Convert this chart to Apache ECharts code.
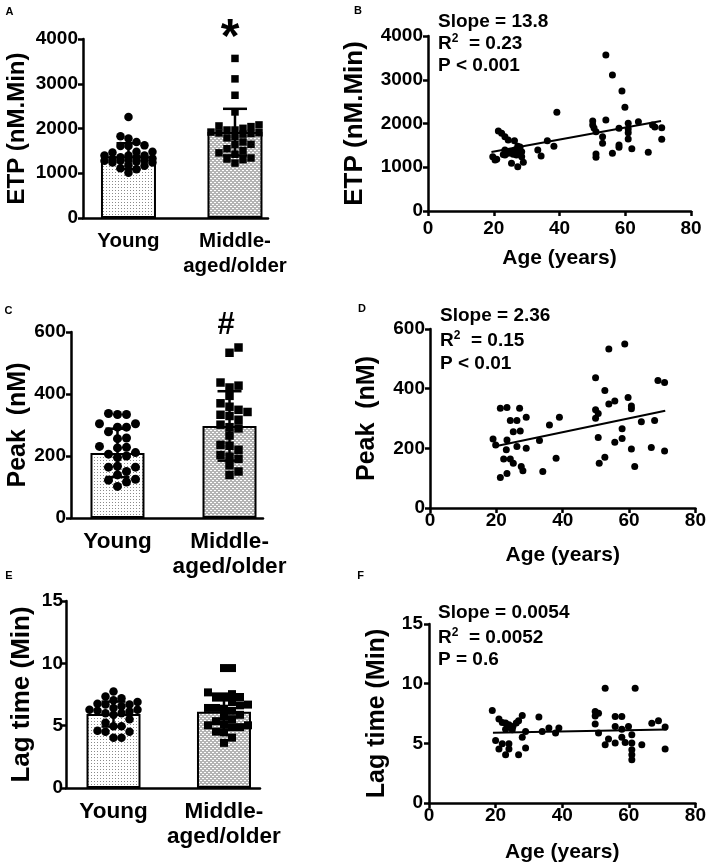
<!DOCTYPE html>
<html><head><meta charset="utf-8">
<script src="https://cdn.jsdelivr.net/npm/echarts@6/dist/echarts.min.js"></script>
<style>html,body{margin:0;padding:0;background:#fff}#c{width:709px;height:864px}</style>
</head><body><div id="c"></div>
<script>
// ---------------- DATA ----------------
const groupCats = ['Young', 'Middle-\naged/older'];
const ageTicks = [0, 20, 40, 60, 80];

// ETP (nM.Min) vs age
const etpAge = [19.7,20.4,20.9,21.4,22.4,23.4,24.4,26.3,27.3,23.4,23.4,24.4,25.4,27.3,28.5,28.5,29.0,26.4,26.9,28.0,33.4,34.4,36.3,38.3,39.2,24.9,25.9,22.9,27.8,
  54.1,56.1,59.0,59.9,50.1,50.1,54.1,51.1,53.1,53.1,51.1,51.1,56.1,58.1,58.1,58.1,60.9,60.9,60.9,62.0,64.0,67.0,68.3,69.0,71.1,71.1,60.9,50.5];
const etpVal = [1242,1166,1181,1829,1775,1699,1623,1608,1478,1394,1280,1318,1090,1013,1356,1242,1112,1394,1280,1463,1394,1257,1608,1478,2255,1350,1300,1290,1330,
  3566,3109,2743,2370,2057,1966,2080,1813,1699,1547,1303,1227,1318,1890,1509,1455,2004,1875,1646,1425,2042,1341,1966,1920,1905,1638,1790,1900];
const etpFit = [[19.3, 1349], [70.9, 2057]];
const etpMean = [1380, 1920];
const etpSD = [290, 520];
const etpStats = ['Slope = 13.8', '0.23', 'P < 0.001'];

// Peak (nM) vs age
const peakAge = [21.2,23.2,27.0,24.2,26.2,29.0,25.1,27.2,19.0,19.8,23.2,26.2,29.0,33.0,36.0,39.0,22.2,24.2,25.1,27.5,28.0,23.2,21.2,34.0,38.0,23.0,
  53.9,58.7,49.9,68.7,70.7,52.7,55.7,53.9,59.7,60.7,60.7,49.9,50.7,49.9,57.9,63.7,67.7,50.7,57.9,55.7,60.7,66.7,70.7,52.7,51.0,61.7];
const peakVal = [334,337,334,293,293,304,256,258,231,211,228,206,200,226,278,304,164,164,150,139,125,116,102,122,167,195,
  533,550,437,427,421,394,359,349,370,342,333,329,317,301,266,289,293,236,233,220,198,203,191,170,150,139];
const peakFit = [[19.0, 205], [70.9, 326]];
const peakMean = [210, 297];
const peakSD = [78, 112];
const peakStats = ['Slope = 2.36', '0.15', 'P < 0.01'];

// Lag time (Min) vs age
const lagAge = [19.0,33.0,28.0,21.0,26.9,22.0,24.0,25.2,26.2,23.0,25.0,29.0,34.0,36.0,38.0,39.0,28.0,20.0,22.0,24.0,29.0,21.0,24.0,23.0,26.9,23.0,
  52.9,61.9,49.9,50.9,49.9,55.9,57.9,66.9,68.9,49.9,50.9,55.9,57.9,59.9,60.9,70.9,53.9,52.9,55.9,58.9,57.9,60.9,63.9,60.9,60.9,60.9,70.9];
const lagVal = [7.75,7.2,7.33,7.03,6.9,6.75,6.56,6.42,6.7,6.19,6.14,6.0,6.0,6.28,5.87,6.28,5.52,5.24,4.96,4.96,4.6,4.52,4.52,4.04,4.04,6.7,
  9.62,9.62,7.67,7.53,7.3,7.25,7.25,6.69,6.9,6.63,5.87,6.42,6.19,6.42,5.71,6.36,5.36,4.88,5.03,5.08,5.52,5.03,4.88,4.46,4.04,3.62,4.52];
const lagFit = [[19.2, 5.88], [71.4, 6.16]];
const lagMean = [5.93, 6.12];
const lagSD = [1.0, 1.45];
const lagStats = ['Slope = 0.0054', '0.0052', 'P = 0.6'];

// ---------------- HELPERS ----------------
const FF = '"Liberation Sans", Arial, sans-serif';
function makePattern(w, h, bg, fg, pts) {
  const c = document.createElement('canvas'); c.width = w; c.height = h;
  const x = c.getContext('2d'); x.fillStyle = bg; x.fillRect(0, 0, w, h);
  x.fillStyle = fg; pts.forEach(p => x.fillRect(p[0], p[1], 1, 1));
  return c;
}
const youngPat = { image: makePattern(3, 3, '#ffffff', '#8a8a8a', [[1, 1]]), repeat: 'repeat' };
const oldPat = { image: makePattern(4, 4, '#b4b4b4', '#ffffff', [[0, 0], [1, 0], [2, 2], [3, 2]]), repeat: 'repeat' };

function split(ages, vals) {
  const y = [], o = [];
  ages.forEach((a, i) => (a < 45 ? y : o).push(vals[i]));
  return [y, o];
}
// simple beeswarm layout (pixel space), returns [x, value] pairs
function swarm(vals, center, pxX, pxY, size, halfW) {
  const placed = [], out = [];
  const order = vals.map((v, i) => i).sort((a, b) => vals[a] - vals[b]);
  const maxK = Math.floor(halfW / size);
  const cands = [0];
  for (let k = 1; k <= maxK; k++) cands.push(k * size, -k * size);
  order.forEach(i => {
    const py = vals[i] * pxY;
    let best = 0, bestD = -1;
    for (const off of cands) {
      let md = Infinity;
      for (const p of placed) { const d = Math.hypot(p[0] - off, p[1] - py); if (d < md) md = d; }
      if (md >= size * 0.92) { best = off; bestD = md; break; }
      if (md > bestD) { bestD = md; best = off; }
    }
    placed.push([best, py]);
    out.push([center + best / pxX, vals[i]]);
  });
  return out;
}

const axLine = { show: true, onZero: false, lineStyle: { color: '#000', width: 2.5 } };
const axTick = { show: true, inside: false, length: 5, lineStyle: { color: '#000', width: 2.5 } };
const plain = v => String(v);
function yAx(grid, max, interval, name, nameSize, nameGap, margin) {
  return {
    type: 'value', gridIndex: grid, min: 0, max: max, interval: interval,
    axisLine: axLine, axisTick: axTick, splitLine: { show: false },
    axisLabel: { formatter: plain, color: '#000', fontSize: 19, fontWeight: 'bold', fontFamily: FF, margin: margin },
    name: name, nameLocation: 'middle', nameGap: nameGap,
    nameTextStyle: { color: '#000', fontSize: nameSize, fontWeight: 'bold', fontFamily: FF }
  };
}
function xBarAx(grid, min, max, fs) {
  return {
    type: 'value', gridIndex: grid, min: min, max: max,
    axisLine: axLine, axisTick: { show: false }, splitLine: { show: false },
    axisLabel: { customValues: [0, 1], formatter: v => groupCats[Math.round(v)], color: '#000',
      fontSize: fs, fontWeight: 'bold', fontFamily: FF, margin: 11, lineHeight: 25 }
  };
}
function xAgeAx(grid, nameGap, margin) {
  return {
    type: 'value', gridIndex: grid, min: 0, max: 80, interval: 20,
    axisLine: axLine, axisTick: axTick, splitLine: { show: false },
    axisLabel: { formatter: plain, color: '#000', fontSize: 19, fontWeight: 'bold', fontFamily: FF, margin: margin },
    name: 'Age (years)', nameLocation: 'middle', nameGap: nameGap,
    nameTextStyle: { color: '#000', fontSize: 21, fontWeight: 'bold', fontFamily: FF }
  };
}
function barSeries(ax, means, bw) {
  return {
    type: 'bar', xAxisIndex: ax, yAxisIndex: ax, barWidth: bw, z: 1,
    data: means.map((m, i) => ({ value: [i, m], itemStyle: { color: i === 0 ? youngPat : oldPat } })),
    itemStyle: { borderColor: '#000', borderWidth: 2 }
  };
}
function errSeries(ax, means, sds) {
  return {
    type: 'custom', xAxisIndex: ax, yAxisIndex: ax, z: 2,
    data: means.map((m, i) => [i, m, sds[i]]),
    renderItem: (params, api) => {
      const x = api.value(0), m = api.value(1), s = api.value(2);
      const t = api.coord([x, m + s]), b = api.coord([x, m - s]);
      const st = { stroke: '#000', lineWidth: 2.5 };
      return { type: 'group', children: [
        { type: 'line', shape: { x1: t[0], y1: t[1], x2: b[0], y2: b[1] }, style: st },
        { type: 'line', shape: { x1: t[0] - 12, y1: t[1], x2: t[0] + 12, y2: t[1] }, style: st },
        { type: 'line', shape: { x1: b[0] - 12, y1: b[1], x2: b[0] + 12, y2: b[1] }, style: st }
      ] };
    }
  };
}
function dotSeries(ax, pts, sym, size) {
  return { type: 'scatter', xAxisIndex: ax, yAxisIndex: ax, z: 3, symbol: sym, symbolSize: size,
    itemStyle: { color: '#000', opacity: 1 }, data: pts };
}
function scatSeries(ax, ages, vals) {
  return { type: 'scatter', xAxisIndex: ax, yAxisIndex: ax, symbol: 'circle', symbolSize: 7,
    itemStyle: { color: '#000', opacity: 1 }, data: ages.map((a, i) => [a, vals[i]]) };
}
function fitSeries(ax, fit) {
  return { type: 'line', xAxisIndex: ax, yAxisIndex: ax, symbol: 'none', z: 4,
    lineStyle: { color: '#000', width: 2 }, data: fit };
}
function statText(x, y0, y1, y2, st) {
  const base = { fontSize: 19, fontWeight: 'bold', fontFamily: FF, fill: '#000' };
  return [
    { type: 'text', x: x, y: y0, style: Object.assign({ text: st[0], verticalAlign: 'middle' }, base) },
    { type: 'text', x: x, y: y1, style: { text: '{a|R}{s|2}{a|  = ' + st[1] + '}', verticalAlign: 'middle',
      rich: { a: Object.assign({ lineHeight: 22 }, base), s: { fontSize: 12, fontWeight: 'bold', fontFamily: FF, fill: '#000', verticalAlign: 'top', lineHeight: 22 } } } },
    { type: 'text', x: x, y: y2, style: Object.assign({ text: st[2], verticalAlign: 'middle' }, base) }
  ];
}
function letter(t, x, y) {
  return { type: 'text', x: x, y: y, style: { text: t, fontSize: 11, fontWeight: 'bold', fontFamily: FF, fill: '#000', align: 'center', verticalAlign: 'middle' } };
}

// ---------------- BUILD ----------------
const [etpY, etpO] = split(etpAge, etpVal);
const [peakY, peakO] = split(peakAge, peakVal);
const [lagY, lagO] = split(lagAge, lagVal);

const option = {
  animation: false,
  backgroundColor: '#fff',
  grid: [
    { left: 83, top: 39, width: 185, height: 179 },
    { left: 428, top: 36, width: 263, height: 175 },
    { left: 71, top: 332, width: 192, height: 186 },
    { left: 430, top: 329, width: 267, height: 179 },
    { left: 66, top: 601, width: 194, height: 187 },
    { left: 429, top: 624, width: 267, height: 179 }
  ],
  xAxis: [
    xBarAx(0, -0.427, 1.31, 20.5),
    xAgeAx(1, 37, 8),
    xBarAx(2, -0.415, 1.299, 22.5),
    xAgeAx(3, 37, 3),
    xBarAx(4, -0.43, 1.326, 22.5),
    xAgeAx(5, 39, 3)
  ],
  yAxis: [
    yAx(0, 4000, 1000, 'ETP (nM.Min)', 24, 54, 5),
    yAx(1, 4000, 1000, 'ETP (nM.Min)', 26, 60, 5),
    yAx(2, 600, 200, 'Peak  (nM)', 25, 37, 5),
    yAx(3, 600, 200, 'Peak  (nM)', 25, 50, 5),
    yAx(4, 15, 5, 'Lag time (Min)', 26, 31, 3),
    yAx(5, 15, 5, 'Lag time (Min)', 25, 39, 6)
  ],
  series: [
    barSeries(0, etpMean, 55), errSeries(0, etpMean, etpSD),
    dotSeries(0, swarm(etpY, 0, 106.5, 179 / 4000, 8, 24), 'circle', 8.5),
    dotSeries(0, swarm(etpO, 1, 106.5, 179 / 4000, 8, 24), 'rect', 7.5),
    scatSeries(1, etpAge, etpVal), fitSeries(1, etpFit),
    barSeries(2, peakMean, 54), errSeries(2, peakMean, peakSD),
    dotSeries(2, swarm(peakY, 0, 112, 186 / 600, 9, 24), 'circle', 9),
    dotSeries(2, swarm(peakO, 1, 112, 186 / 600, 9, 24), 'rect', 8.5),
    scatSeries(3, peakAge, peakVal), fitSeries(3, peakFit),
    barSeries(4, lagMean, 54), errSeries(4, lagMean, lagSD),
    dotSeries(4, swarm(lagY, 0, 110.5, 187 / 15, 8, 24), 'circle', 8.5),
    dotSeries(4, swarm(lagO, 1, 110.5, 187 / 15, 8, 24), 'rect', 8),
    scatSeries(5, lagAge, lagVal), fitSeries(5, lagFit)
  ],
  graphic: [
    letter('A', 9.5, 12), letter('B', 358, 11), letter('C', 8.5, 311),
    letter('D', 362, 309), letter('E', 9, 576), letter('F', 360.5, 576),
    { type: 'text', x: 230, y: 39, style: { text: '*', fontSize: 48, fontWeight: 'bold', fontFamily: FF, fill: '#000', align: 'center', verticalAlign: 'middle' } },
    { type: 'text', x: 226, y: 325, style: { text: '#', fontSize: 31, fontWeight: 'bold', fontFamily: FF, fill: '#000', align: 'center', verticalAlign: 'middle' } }
  ].concat(statText(438, 22, 44, 66, etpStats))
   .concat(statText(440, 316, 341, 364, peakStats))
   .concat(statText(438, 613, 638, 660, lagStats))
};

const chart = echarts.init(document.getElementById('c'), null, { renderer: 'canvas' });
chart.setOption(option);
</script>
</body></html>
